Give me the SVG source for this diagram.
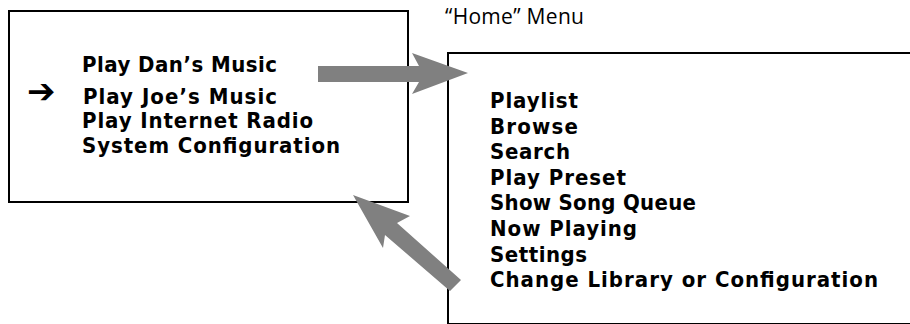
<svg xmlns="http://www.w3.org/2000/svg" width="910" height="324" viewBox="0 0 910 324">
  <style>
    .box { fill: #ffffff; stroke: #000000; stroke-width: 2; }
    .item { font-family: 'DejaVu Sans Condensed', 'DejaVu Sans', 'Liberation Sans', sans-serif; font-weight: bold; font-size: 22px; fill: #000000; }
    .label { font-family: 'Open Sans', 'Liberation Sans', sans-serif; font-size: 21px; fill: #000000; }
    .flow { fill: #808080; stroke: none; }
  </style>
  <rect x="0" y="0" width="910" height="324" fill="#ffffff"/>

  <g id="source-menu">
    <rect class="box" x="9" y="11" width="399" height="191"/>
    <text x="27" y="103" style="font-family: 'DejaVu Sans', sans-serif; font-weight: bold; font-size: 34px;">➔</text>
    <text class="item" x="82" y="72" textLength="195">Play Dan’s Music</text>
    <text class="item" x="83" y="104" textLength="194">Play Joe’s Music</text>
    <text class="item" x="82" y="128" textLength="231">Play Internet Radio</text>
    <text class="item" x="82" y="153" textLength="258">System Configuration</text>
  </g>

  <g id="home-menu">
    <text class="label" x="445" y="24" textLength="139">“Home” Menu</text>
    <rect class="box" x="448" y="53" width="480" height="271"/>
    <text class="item" x="490" y="108" textLength="88">Playlist</text>
    <text class="item" x="490" y="133.6" textLength="88">Browse</text>
    <text class="item" x="490" y="159.2" textLength="80">Search</text>
    <text class="item" x="490" y="184.8" textLength="136">Play Preset</text>
    <text class="item" x="490" y="210.4" textLength="206">Show Song Queue</text>
    <text class="item" x="490" y="236" textLength="147">Now Playing</text>
    <text class="item" x="490" y="261.6" textLength="97">Settings</text>
    <text class="item" x="490" y="287.2" textLength="388">Change Library or Configuration</text>
  </g>

  <g id="connectors">
    <polygon class="flow" points="318,66 419,66 412,53 468,73 412,94 419,82 318,82"/>
    <polygon class="flow" points="353,195 410,216 397,223 461,280 450,291 385,235 383,248"/>
  </g>
</svg>
